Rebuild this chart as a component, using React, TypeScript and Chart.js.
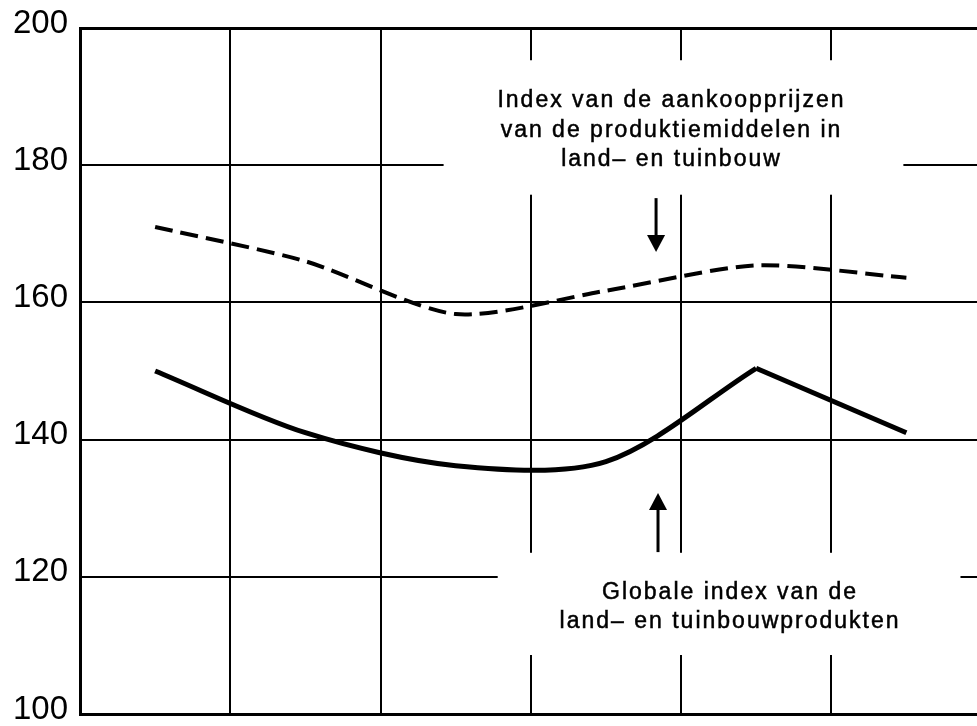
import React, { useEffect, useRef } from 'react';
import { Chart, registerables } from 'chart.js';

Chart.register(...registerables);

// ---- data ----
const xPositions = [0.5, 1.5, 2.5, 3.5, 4.5, 5.5];
const purchasePriceIndex = [171, 166, 158.3, 161.7, 165.4, 163.6];
const productPriceIndex = [150, 141, 136.2, 136.8, 150.4, 141];
const yMin = 100;
const yMax = 200;
const yStep = 20;
const xMin = 0;
const xMax = 5.97;
const topNoteLines = ['Index van de aankoopprijzen', 'van de produktiemiddelen in', 'land\u2013 en tuinbouw'];
const bottomNoteLines = ['Globale index van de', 'land\u2013 en tuinbouwprodukten'];

// ---- annotation placement (data units) ----
const topNote = {
  box: { x0: 2.42, x1: 5.48, y0: 175.7, y1: 195.3 },
  cx: 3.93,
  baselines: [188.53, 184.07, 179.88],
  arrow: { x: 3.834, from: 175.2, to: 167.35 },
};
const bottomNote = {
  box: { x0: 2.78, x1: 5.86, y0: 108.6, y1: 123.5 },
  cx: 4.32,
  baselines: [116.72, 112.49],
  arrow: { x: 3.847, from: 123.6, to: 132.2 },
};

const FONT = '"Liberation Sans", Arial, Helvetica, sans-serif';

function drawArrow(ctx: CanvasRenderingContext2D, x: number, yFrom: number, yTo: number) {
  const dir = yTo > yFrom ? 1 : -1;
  const headLen = 17;
  const headHalf = 9;
  ctx.save();
  ctx.strokeStyle = '#000';
  ctx.fillStyle = '#000';
  ctx.lineWidth = 3;
  ctx.beginPath();
  ctx.moveTo(x, yFrom);
  ctx.lineTo(x, yTo - dir * headLen + dir * 2);
  ctx.stroke();
  ctx.beginPath();
  ctx.moveTo(x, yTo);
  ctx.lineTo(x - headHalf, yTo - dir * headLen);
  ctx.lineTo(x + headHalf, yTo - dir * headLen);
  ctx.closePath();
  ctx.fill();
  ctx.restore();
}

const notesPlugin = {
  id: 'notes',
  beforeDatasetsDraw(chart: any) {
    const { ctx, scales } = chart;
    const xs = scales.x;
    const ys = scales.y;
    ctx.save();
    ctx.fillStyle = '#fff';
    for (const n of [topNote, bottomNote]) {
      const x0 = xs.getPixelForValue(n.box.x0);
      const x1 = xs.getPixelForValue(n.box.x1);
      const y0 = ys.getPixelForValue(n.box.y1);
      const y1 = ys.getPixelForValue(n.box.y0);
      ctx.fillRect(x0, y0, x1 - x0, y1 - y0);
    }
    ctx.fillStyle = '#000';
    ctx.strokeStyle = '#000';
    ctx.lineWidth = 0.5;
    ctx.font = `23px ${FONT}`;
    (ctx as any).letterSpacing = '2px';
    ctx.textAlign = 'center';
    ctx.textBaseline = 'alphabetic';
    const drawLines = (n: any, lines: string[]) => {
      const cx = xs.getPixelForValue(n.cx);
      lines.forEach((t, i) => {
        const y = ys.getPixelForValue(n.baselines[i]);
        ctx.fillText(t, cx + 1, y);
        ctx.strokeText(t, cx + 1, y);
      });
    };
    drawLines(topNote, topNoteLines);
    drawLines(bottomNote, bottomNoteLines);
    ctx.restore();
    for (const n of [topNote, bottomNote]) {
      drawArrow(
        ctx,
        xs.getPixelForValue(n.arrow.x),
        ys.getPixelForValue(n.arrow.from),
        ys.getPixelForValue(n.arrow.to)
      );
    }
  },
};

export default function App() {
  const canvasRef = useRef<HTMLCanvasElement | null>(null);

  useEffect(() => {
    document.body.style.margin = '0';
    const canvas = canvasRef.current;
    if (!canvas) return;
    const toPts = (vals: number[]) => vals.map((v, i) => ({ x: xPositions[i], y: v }));
    const productPts = toPts(productPriceIndex);
    const chart = new Chart(canvas, {
      type: 'line',
      data: {
        datasets: [
          {
            label: 'Index van de aankoopprijzen van de produktiemiddelen in land- en tuinbouw',
            data: toPts(purchasePriceIndex),
            borderColor: '#000',
            borderWidth: 4,
            borderDash: [18, 8],
            borderCapStyle: 'butt',
            pointRadius: 0,
            tension: 0.25,
            fill: false,
          },
          {
            label: 'Globale index van de land- en tuinbouwprodukten',
            data: productPts.slice(0, 5),
            borderColor: '#000',
            borderWidth: 5,
            pointRadius: 0,
            tension: 0.3,
            fill: false,
          },
          {
            label: 'Globale index van de land- en tuinbouwprodukten (vervolg)',
            data: productPts.slice(4),
            borderColor: '#000',
            borderWidth: 5,
            borderJoinStyle: 'miter',
            pointRadius: 0,
            tension: 0,
            fill: false,
          },
        ],
      },
      options: {
        responsive: false,
        animation: false,
        events: [],
        layout: { autoPadding: false, padding: { top: 28, bottom: 12, left: 0, right: 0 } },
        plugins: { legend: { display: false }, tooltip: { enabled: false }, title: { display: false } },
        scales: {
          x: {
            type: 'linear',
            min: xMin,
            max: xMax,
            ticks: { display: false, stepSize: 1, includeBounds: false },
            grid: {
              color: (c: any) => (Number.isInteger(c.tick?.value) ? '#000' : 'rgba(0,0,0,0)'),
              lineWidth: 2,
              drawTicks: false,
            },
            border: { display: true, color: '#000', width: 3 },
            afterFit: (s: any) => {
              s.height = 0;
              s.paddingLeft = 0;
              s.paddingRight = 0;
            },
          },
          y: {
            type: 'linear',
            min: yMin,
            max: yMax,
            ticks: {
              stepSize: yStep,
              color: '#000',
              padding: 12,
              labelOffset: -4.5,
              font: { family: FONT, size: 33 },
            },
            grid: {
              color: '#000',
              lineWidth: (c: any) => (c.tick?.value === yMax ? 3 : 2),
              drawTicks: false,
            },
            border: { display: true, color: '#000', width: 3 },
            afterFit: (s: any) => {
              s.width = 80;
              s.paddingTop = 0;
              s.paddingBottom = 0;
            },
          },
        },
      } as any,
      plugins: [notesPlugin],
    });
    return () => chart.destroy();
  }, []);

  return (
    <div style={{ position: 'fixed', left: 0, top: 0, width: 977, height: 726, background: '#fff' }}>
      <canvas ref={canvasRef} width={977} height={726} />
    </div>
  );
}
